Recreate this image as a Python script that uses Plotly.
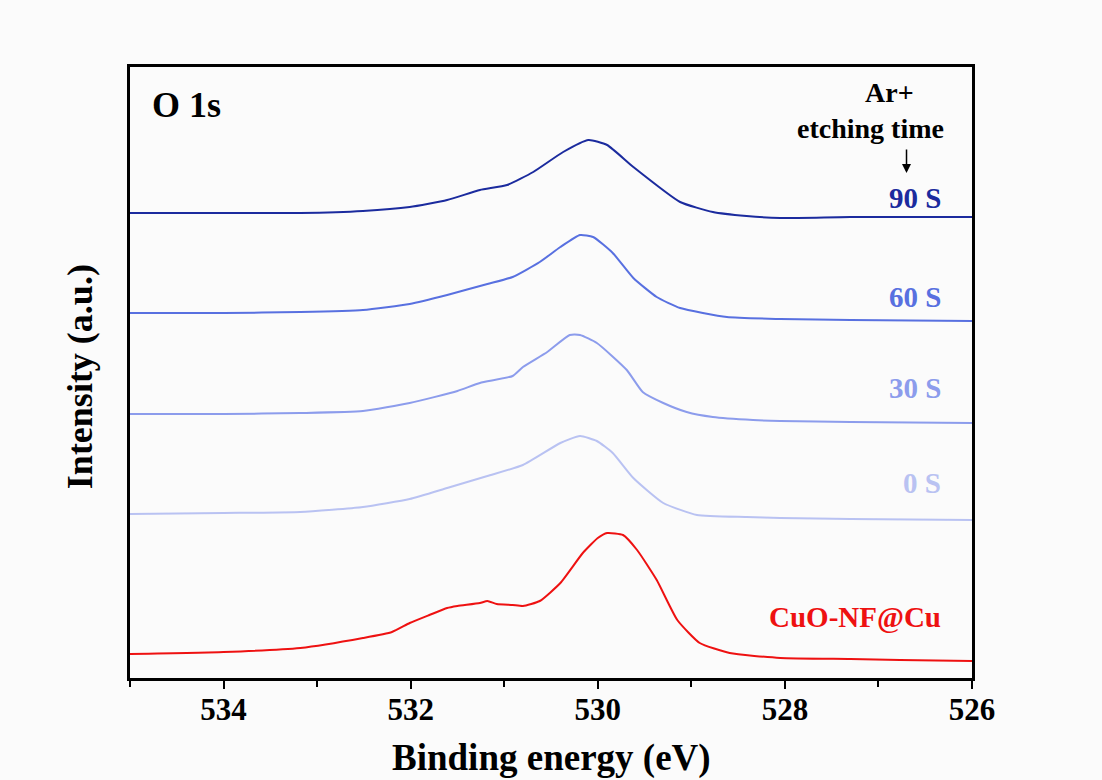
import plotly.graph_objects as go

# Binding energy (eV) and intensity (a.u., offset stacked)
e_cuo = [535.0, 534.0, 533.18, 532.51, 532.2, 532.01, 531.8, 531.61, 531.5, 531.26, 531.18, 531.08,
         530.91, 530.80, 530.62, 530.40, 530.16, 530.0, 529.90, 529.73, 529.58, 529.37, 529.15,
         528.91, 528.59, 528.05, 527.3, 526.77, 526.0]
i_cuo = [24, 26, 30, 40, 46, 55, 63, 70, 72, 75, 77, 74, 73, 72, 77, 95, 125, 140, 145, 143, 128,
         98, 58, 35, 25, 20, 19, 18, 17]

e_0s = [535.0, 534.0, 533.18, 532.51, 532.01, 531.61, 531.18, 530.80, 530.40, 530.19, 530.01,
        529.84, 529.62, 529.30, 528.94, 528.41, 528.05, 527.3, 526.0]
i_0s = [164, 165, 166, 171, 179, 190, 202, 213, 235, 242, 237, 225, 200, 175, 163, 161, 160, 159, 158]

e_30s = [535.0, 534.0, 533.18, 532.51, 532.01, 531.5, 531.26, 530.91, 530.80, 530.54, 530.30,
         530.19, 530.01, 529.69, 529.52, 529.30, 529.05, 528.77, 528.34, 528.05, 527.3, 526.0]
i_30s = [264, 264, 265, 267, 275, 287, 295, 302, 311, 326, 343, 343, 335, 308, 286, 275, 266, 261,
         258, 257, 256, 255]

e_60s = [535.0, 534.0, 533.18, 532.51, 532.01, 531.61, 531.18, 530.91, 530.62, 530.40, 530.19,
         530.05, 529.84, 529.62, 529.37, 529.12, 528.62, 528.05, 527.3, 526.0]
i_60s = [365, 365, 366, 368, 374, 383, 394, 401, 416, 431, 443, 441, 425, 400, 381, 370, 361, 359,
         358, 357]

e_90s = [535.0, 534.0, 533.18, 532.51, 532.01, 531.61, 531.26, 530.97, 530.69, 530.37, 530.10,
         529.90, 529.62, 529.12, 528.77, 528.41, 528.05, 527.3, 526.0]
i_90s = [465, 465, 465, 467, 471, 478, 488, 493, 506, 526, 538, 533, 511, 476, 466, 462, 460, 461, 461]

series = [
    ("CuO-NF@Cu", e_cuo, i_cuo, "#EE1111"),
    ("0 S", e_0s, i_0s, "#B9C2F2"),
    ("30 S", e_30s, i_30s, "#8C9CEC"),
    ("60 S", e_60s, i_60s, "#5870E0"),
    ("90 S", e_90s, i_90s, "#1B2B9E"),
]
label_pos = {"CuO-NF@Cu": 61, "0 S": 195, "30 S": 290, "60 S": 381, "90 S": 480}

FONT = "Liberation Serif, Times New Roman, serif"

fig = go.Figure()
for name, ex, iy, col in series:
    fig.add_trace(go.Scatter(x=ex, y=iy, mode="lines", name=name,
                             line=dict(color=col, width=2, shape="spline", smoothing=0.5),
                             showlegend=False))

annotations = []
for name, ex, iy, col in series:
    annotations.append(dict(x=526.31, y=label_pos[name], xref="x", yref="y", text=f"<b>{name}</b>",
                            showarrow=False, xanchor="right", yanchor="middle",
                            font=dict(family=FONT, size=29, color=col)))

annotations += [
    dict(x=0.024, y=573, xref="paper", yref="y", text="<b>O 1s</b>", showarrow=False,
         xanchor="left", yanchor="middle", font=dict(family=FONT, size=36, color="black")),
    dict(x=526.6, y=586, xref="x", yref="y", text="<b>Ar+</b>", showarrow=False,
         xanchor="right", yanchor="middle", align="left",
         font=dict(family=FONT, size=28, color="black")),
    dict(x=526.28, y=550, xref="x", yref="y", text="<b>etching time</b>", showarrow=False,
         xanchor="right", yanchor="middle", font=dict(family=FONT, size=28, color="black")),
    dict(x=526.7, y=505, xref="x", yref="y", ax=526.7, ay=530, axref="x", ayref="y",
         text="", showarrow=True, arrowhead=2, arrowsize=1.2, arrowwidth=1.5, arrowcolor="black"),
    # axis titles
    dict(x=0.501, y=0, xref="paper", yref="paper", yshift=-80, text="<b>Binding energy (eV)</b>",
         showarrow=False, xanchor="center", yanchor="middle",
         font=dict(family=FONT, size=37, color="black")),
    dict(x=-0.0594, y=0.494, xref="paper", yref="paper", text="<b>Intensity (a.u.)</b>",
         textangle=-90, showarrow=False, xanchor="center", yanchor="middle",
         font=dict(family=FONT, size=36, color="black")),
]

fig.update_layout(
    width=1102, height=780,
    margin=dict(l=130, r=130, t=67, b=102, autoexpand=False),
    paper_bgcolor="#FBFBFB", plot_bgcolor="#FBFBFB",
    annotations=annotations,
    xaxis=dict(range=[535, 526], tickmode="array", tickvals=[534, 532, 530, 528, 526],
               ticktext=["534", "532", "530", "528", "526"],
               ticks="outside", ticklen=8, tickwidth=2, tickcolor="black",
               minor=dict(tickvals=[535, 533, 531, 529, 527], ticks="outside", ticklen=6,
                          tickwidth=2, tickcolor="black"),
               showline=True, linecolor="black", linewidth=2.5, mirror=True,
               showgrid=False, zeroline=False, automargin=False, ticklabelstandoff=-6,
               tickfont=dict(family=FONT, size=31, color="black", weight="bold")),
    yaxis=dict(range=[0, 611], showticklabels=False, ticks="", showgrid=False, zeroline=False,
               showline=True, linecolor="black", linewidth=2.5, mirror=True, automargin=False),
)

fig.write_html("out.html")
